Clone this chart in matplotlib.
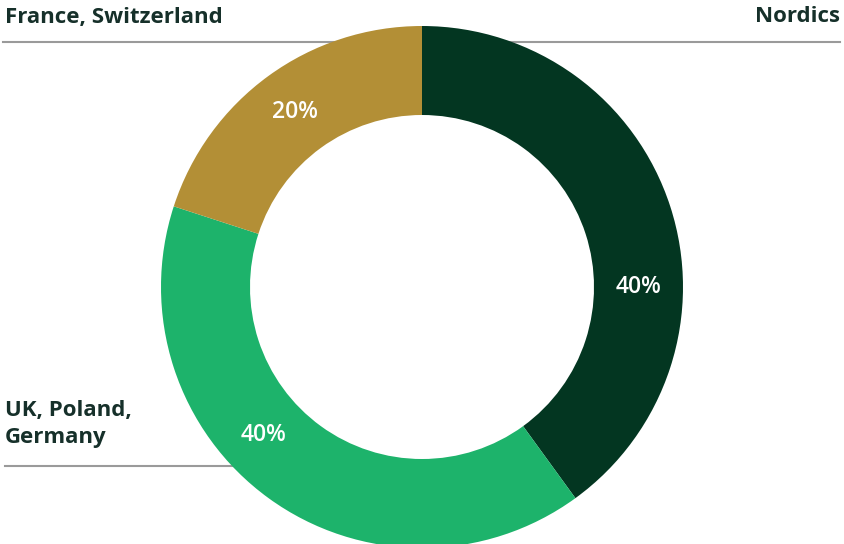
import numpy as np
import matplotlib.pyplot as plt

# shares by region, clockwise from the top
regions = ["Nordics", "UK, Poland,\nGermany", "France, Switzerland"]
shares = [40, 40, 20]
pct_labels = ["40%", "40%", "20%"]
colors = ["#033621", "#1db36b", "#b38f36"]
label_angles = [0, -137, 126]  # where the % text sits (deg)

plt.rcParams["font.family"] = ["Open Sans", "DejaVu Sans"]

fig = plt.figure(figsize=(8.44, 5.44), dpi=100)
ax = fig.add_axes([0, 0, 1, 1])

cx, cy, r_out, width = 422, 257, 261, 89

# guide lines behind the ring
ax.plot([3, 840], [502, 502], color="#9a9a9a", lw=1.5, zorder=0)
ax.plot([5, 422], [78, 78], color="#9a9a9a", lw=1.5, zorder=0)

ax.pie(shares, colors=colors, startangle=90, counterclock=False,
       center=(cx, cy), radius=r_out, frame=True,
       wedgeprops=dict(width=width, edgecolor="none"))
ax.set_xlim(0, 844)
ax.set_ylim(0, 544)
ax.set_aspect("equal")
ax.axis("off")

r_mid = r_out - width / 2
for lab, ang in zip(pct_labels, label_angles):
    a = np.deg2rad(ang)
    ax.text(cx + r_mid * np.cos(a), cy + r_mid * np.sin(a), lab,
            color="white", fontsize=16.5, fontweight="semibold",
            ha="center", va="center")

txt = "#16302a"
ax.text(5, 527, regions[2], color=txt, fontsize=16, fontweight="bold",
        ha="left", va="center")
ax.text(840, 527, regions[0], color=txt, fontsize=16, fontweight="bold",
        ha="right", va="center")
ax.text(5, 120, regions[1], color=txt, fontsize=16, fontweight="bold",
        ha="left", va="center", linespacing=1.35)

fig.savefig("out.png", dpi=100)
